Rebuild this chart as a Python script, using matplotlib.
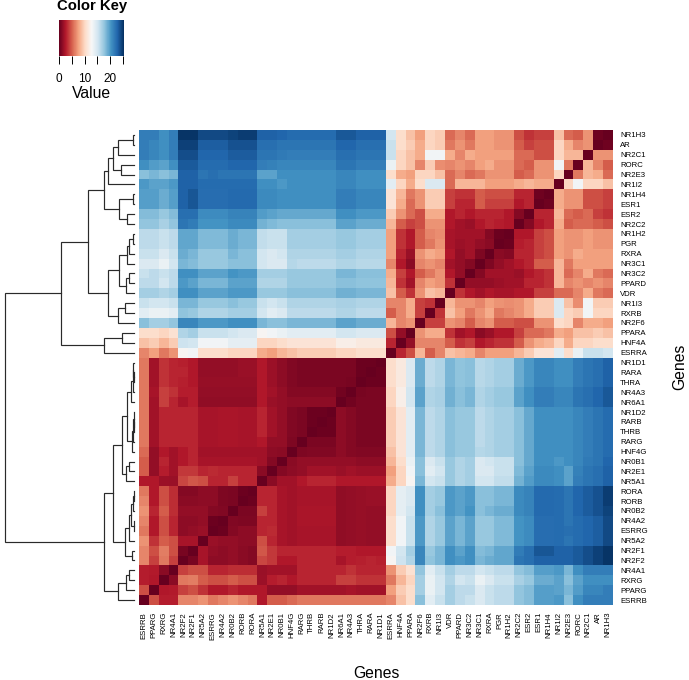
import numpy as np
import matplotlib
matplotlib.use('Agg')
import matplotlib.pyplot as plt

plt.rcParams['font.family'] = ['Liberation Sans', 'DejaVu Sans']

W, H = 689, 680

# genes, top to bottom on the y axis (x axis runs the other way)
genes = ['NR1H3', 'AR', 'NR2C1', 'RORC', 'NR2E3', 'NR1I2', 'NR1H4', 'ESR1', 'ESR2', 'NR2C2',
         'NR1H2', 'PGR', 'RXRA', 'NR3C1', 'NR3C2', 'PPARD', 'VDR', 'NR1I3', 'RXRB', 'NR2F6',
         'PPARA', 'HNF4A', 'ESRRA', 'NR1D1', 'RARA', 'THRA', 'NR4A3', 'NR6A1', 'NR1D2', 'RARB',
         'THRB', 'RARG', 'HNF4G', 'NR0B1', 'NR2E1', 'NR5A1', 'RORA', 'RORB', 'NR0B2', 'NR4A2',
         'ESRRG', 'NR5A2', 'NR2F1', 'NR2F2', 'NR4A1', 'RXRG', 'PPARG', 'ESRRB']

# distances: each row goes left to right up to the diagonal,
# the other triangle is the mirror of this one
distances = [
    [21.5,21.5,20.5,21.5,25.2,25.2,24.2,24.2,24.2,24.5,24.8,24.8,23,23,22.8,22.5,22.5,22.5,22.5,22.5,23.5,23.5,23,23,23,
     15,10.5,9,7.5,10,9.5,5.5,6.5,5.5,7.5,7.5,7,7,4.5,3.5,4,4,9,5.5,5,7,0.3],
    [21.5,21,20.5,21.5,24.6,24.6,23.2,23.2,23.2,23.8,23.8,23.8,22.3,22.3,22,22,22,22,22,22,22.8,22.8,22.3,22.3,22.3,
     15.5,10.5,9.5,8,10,9.5,6,7,6,7.5,7.5,7,7,5,4,4.5,4.5,10,8,6.5,7],
    [21.5,21,20.5,21.5,24,24,22.8,22.8,22.8,23.3,23.3,23.3,22,22,21.7,21.5,21.5,21.5,21.5,21.5,22.3,22.3,22,22,22,
     15.5,10,9,8,13,13,8,6.5,8,7.5,7.5,7.5,7.5,5.5,5.5,4.5,4.5,10,8.5,8.5],
    [20.5,19.8,19.5,20.5,23.4,23.4,22.5,22.5,22.5,22.8,22.8,22.8,21.5,21.3,21,21,21,21,21,21,22,22,21.5,21.5,21.5,
     13.5,10,9,6.5,9.5,6.8,6.5,7,6.5,7.5,8,7,7,5.5,5,7,7,13,6],
    [18,18.5,18,18.5,23,23,22,22.3,22,22,22,22,19.5,19.5,20.5,20.5,20.5,20.5,20.5,20.5,21,21,20.5,20.5,20.5,
     10.5,8,7.5,10,10,9,5.5,6.5,5.5,6,7,7,7,5,5.5,7,7,10],
    [20,19.5,19.5,20,23,23,22.5,22.5,22.5,22.5,22.5,22.5,20.5,20.5,20,20.5,20.5,20.5,20.5,20.5,21,21,20.5,20.5,20.5,
     14,10,8,10.5,14.5,14.5,5.5,8.5,8.5,8.5,7.5,7.5,7.5,8,8.5,8,8],
    [19.7,19.7,19,19.7,23,23.6,22.4,22.4,22.4,22.6,22.6,22.6,20.8,20.8,20.5,20.5,20.5,20.5,20.5,20.5,21.5,21.5,21,21,21,
     11,8.5,6,7,9.5,9.5,4,3.5,3.5,5,4.5,4.5,4.5,3,3,0.3],
    [19.7,19.7,19,19.7,23,23.6,22.4,22.4,22.4,22.6,22.6,22.6,20.8,20.8,20.5,20.5,20.5,20.5,20.5,20.5,21.5,21.5,21,21,21,
     11,8,5.5,7,9.5,9.5,4,3,3,5,4,4,4,2.5,3],
    [18.2,18.2,17.5,18.2,22.3,22.3,20.7,20.7,20.7,21.2,21.2,21.2,19.8,19.5,19.2,19.2,19.2,19.2,19.2,19.2,20.5,20.5,20,20,20,
     9.5,7,5.5,4.5,8,8,2.5,3,2.5,3,3,3,2.5,1],
    [17.7,17.7,16.8,17.7,22,21.6,20.3,20.3,20.3,20.8,20.8,20.8,18.7,18.3,18,18,18,18,18,18,19.5,19.5,19,19,19,
     8.5,5,4,4.5,7,7,2.5,2,1.7,2.5,3,2.7,2.5],
    [16,16,15.5,16,19.3,19.3,18.3,18.3,18.3,19,18.5,18.5,15.8,15.5,15.5,17,17,17,17,17,17.5,17.5,17,17,17,
     7.5,3.5,2.5,5,6.5,6.8,2.2,2,2,2,1,0.2],
    [16,16,15.5,16,19.3,19.3,18.3,18.3,18.3,19,18.5,18.5,15.8,15.5,15.5,17,17,17,17,17,17.5,17.5,17,17,17,
     7.5,3.5,2.5,5,6,7,2.2,1.8,2,1.5,1.2],
    [15.5,15.5,14.5,15.5,19,18.5,17.5,17.5,17.5,18.5,18,18,15,14.5,15,16.5,16.5,16.5,16.5,16.5,17,17,16.5,16.5,16.5,
     7.5,3,1.7,7,8,7.5,2.5,1.5,2,0.8],
    [14.5,14.5,13.5,15,18.5,18.2,17.5,17.5,17.5,18,18,18,15,14.5,14.5,16.3,16,16,16,16,16.5,16.5,16.2,16.2,16.2,
     6.5,2.5,1.2,6.5,7,6.5,2,1.5,1],
    [15.5,16,15.5,16,20.5,20.5,19.5,19.5,19.5,20.3,20,20,17,17,17,17.5,17.5,17.5,17.5,17.5,18.5,18.5,18,18,18,
     8,4,2.5,5,6,7,2.5,1.5],
    [16,16,15,16,20,19.5,18.5,18.5,18.5,19.5,19.5,19.5,16.5,16.5,16.5,17.5,17.5,17.5,17.5,17.5,18,18,17.8,17.8,17.8,
     8.5,3.5,2,6.5,7.5,7,3.5],
    [17,17,16.5,17,20.5,20.5,19.5,19.5,19.5,20,20,20,17.5,17.5,17.5,18,18,18,18,18,18.8,18.8,18.5,18.5,18.5,
     9,5,3.5,7,9,8.5],
    [15.5,15,15,15.5,18.5,18.5,17.5,17.5,17.5,18,17.5,17.5,15.5,15,15.5,16.5,16.5,16.5,16.5,16.5,16.8,16.8,16.5,16.5,16.5,
     6.5,6.5,8,4,3.5],
    [14,13.5,13.5,14,17.8,17.5,16.5,16.5,16.5,17,17,17,15,14,14.5,16,16,16,16,16,16.5,16.5,16,16,16,
     5,6.5,8,4],
    [18,17,17,17.7,21,21,20,20,20,20.5,20.5,20.5,18.5,18,18,18.5,18.5,18.5,18.5,18.5,19.5,19.5,19,19,19,
     8.5,6.5,7],
    [10.5,10.5,10,10.8,16.5,17,15.5,15.5,15.5,15,14.5,14.5,12.5,13,13.5,14,14,14,14,14,15,15,14.5,14.5,14.5,
     4.5,1.5],
    [9,9.5,8.5,9.5,15.3,15,13,13,13,13.8,13.8,13.8,10,10,10.5,11,11,11,11,11,12,12,11.5,11.5,11.5,
     3],
    [6.5,7.5,6,7,12.5,13,10.5,10.5,10.5,10,10,10,8,7.5,8.5,9,9.5,9.5,9.5,9.5,10,10,10.5,10.5,10.5],
    [6,2,3.5,3,2.8,2.5,1.5,1.5,1.5,1.5,1.7,1.7,2.5,1.8,1.3,.9,.7,.7,.7,.7,.7,.7,.2,.2],
    [6,2,3.5,3,3,2.5,1.5,1.5,1.5,1.5,1.7,1.7,2.5,1.8,1.3,.9,.7,.7,.7,.7,.7,.7,.2],
    [6,2,3.5,3,2.8,2.5,1.6,1.6,1.6,1.6,1.6,1.6,2.5,1.8,1.3,.9,.7,.7,.7,.7,.7,.6],
    [6,2.2,4,3.5,2.7,2.7,1.5,1.5,1.5,1.5,1.5,1.5,2.5,2,1.5,1,1,1,1,1,.4],
    [6,2,4,3,2.2,2.7,1.4,1.4,1.4,1.4,1.4,1.4,2.5,1.7,1.5,1.3,1.3,1.3,1.3,1.3],
    [6,2,3,3,3,3,2.2,2.2,2.3,2.3,2.2,2.2,3,2,1.5,.9,.7,.2,.2],
    [6,2,3,3,3,3,2.2,2.2,2.3,2.3,2.2,2.2,3,2,1.5,.9,.7,.2],
    [6,2,3,3,3,3,2.2,2.2,2.3,2.3,2.2,2.2,3,2,1.5,.9,.7],
    [6,2,3,3,3,3,2.2,2.2,2.3,2.3,2.2,2.2,2.5,1.5,1.5,.8],
    [5.5,1.5,2.5,2,2.5,3,2,2,2,2,2,2,2,1.3,1.2],
    [5,1.5,3,2,2.5,3,2.2,2.2,2.2,2.2,2.2,2.2,2,1],
    [5,1.5,2.7,2,3.7,3.7,3,3.2,3,3,3,3,1.2],
    [2.5,2.5,1.8,1.7,4.2,4.8,4.5,3,3,4,3,3],
    [6,2.5,4.5,3.3,1,1,1.3,1.3,.8,.7,.2],
    [6.5,2.5,4.5,3.3,1.2,1.2,1.3,1.3,.8,.7],
    [7,3,5,3.3,1.5,1.5,1.5,1,.9],
    [6.5,2.5,4.5,3,1.3,1.3,1.5,.2],
    [6,2.5,4.5,3,1.3,1.5,1.7],
    [7,3.5,5,4.5,2.2,2.2],
    [6.5,4.5,6.2,4.5,.6],
    [6.5,4,6,4],
    [2.7,2.6,1.2],
    [2.7,2.5],
    [4.5],
]

# row dendrogram as (merge height, upper child, lower child), leaves are row numbers
upper_a = (30, (26, (21, (16, (1, 0, 1), 2), (13, 3, 4)), 5), (15, (1, 6, 7), (7, 8, 9)))
upper_b = (26, (15, (7, (5, (1, 10, 11), 12), 13), (8, (5, 14, 15), 16)), (16, (9, 17, 18), 19))
upper_c = (30, (12, 20, 21), 22)
lower_a = (12, (7, (3, (1, (0.6, 23, (0.4, 24, 25)), 26), 27), (2.5, (1, (0.5, 28, (0.3, 29, 30)), 31), 32)),
           (8, (5, 33, 34), 35))
lower_b = (9, (5, (3, (1.5, (0.5, 36, 37), 38), (0.5, 39, 40)), 41), (2.5, 42, 43))
lower_c = (16, (8, (5, 44, 45), 46), 47)
tree = (129, (73, (46, upper_a, upper_b), upper_c), (30, (21, lower_a, lower_b), lower_c))

key_ticks = [0, 5, 10, 15, 20, 25]
key_labels = ['0', '', '10', '', '20', '']
vmax = 25.4


def px_axes(fig, x0, y0, x1, y1):
    # axes from pixel box, y counted from the top like in the picture
    return fig.add_axes([x0 / W, 1 - y1 / H, (x1 - x0) / W, (y1 - y0) / H])


def draw_tree(ax, node):
    if not isinstance(node, tuple):
        return node + 0.5, 0
    h, a, b = node
    ya, ha = draw_tree(ax, a)
    yb, hb = draw_tree(ax, b)
    ax.plot([ha, h, h, hb], [ya, ya, yb, yb], color='#2a2a2a', lw=0.85, solid_joinstyle='miter')
    return (ya + yb) / 2, h


n = len(genes)
mat = np.zeros((n, n))
for i, row in enumerate(distances):
    assert len(row) == n - 1 - i, i
    for k, v in enumerate(row):
        mat[i, n - 1 - k] = v
        mat[n - 1 - k, i] = v

fig = plt.figure(figsize=(W / 100, H / 100), dpi=100)

# heatmap
ax = px_axes(fig, 139, 130, 613, 605)
ax.imshow(mat[:, ::-1], cmap='RdBu', vmin=0, vmax=vmax, aspect='auto', interpolation='nearest',
          extent=(0, n, n, 0))
ax.yaxis.tick_right()
ax.set_yticks(np.arange(n) + 0.5)
ax.set_yticklabels(genes, fontsize=5.6)
ax.set_xticks(np.arange(n) + 0.5)
ax.set_xticklabels(genes[::-1], fontsize=5.6, rotation=90)
ax.tick_params(axis='both', length=0, pad=5)
for s in ax.spines.values():
    s.set_visible(False)

# dendrogram
ax_d = px_axes(fig, 5, 130, 134, 605)
draw_tree(ax_d, tree)
ax_d.set_xlim(129, 0)
ax_d.set_ylim(n, 0)
ax_d.axis('off')
for line in ax_d.lines:
    line.set_clip_on(False)

# colour key
ax_k = px_axes(fig, 59, 20, 124, 56)
sm = plt.cm.ScalarMappable(norm=plt.Normalize(0, vmax), cmap='RdBu')
cb = fig.colorbar(sm, cax=ax_k, orientation='horizontal', ticks=key_ticks)
cb.ax.set_xticklabels(key_labels, fontsize=8.5)
cb.ax.tick_params(length=5.5, width=0.7, pad=7)
cb.outline.set_visible(False)

fig.text(92 / W, 1 - 6 / H, 'Color Key', fontsize=10.7, fontweight='bold', ha='center', va='center')
fig.text(91 / W, 1 - 93 / H, 'Value', fontsize=11.3, ha='center', va='center')
fig.text(376 / W, 1 - 674 / H, 'Genes', fontsize=11.3, ha='center', va='center')
fig.text(680 / W, 1 - 367 / H, 'Genes', fontsize=11.3, ha='center', va='center', rotation=90)

plt.savefig('out.png', dpi=100)
plt.close(fig)
